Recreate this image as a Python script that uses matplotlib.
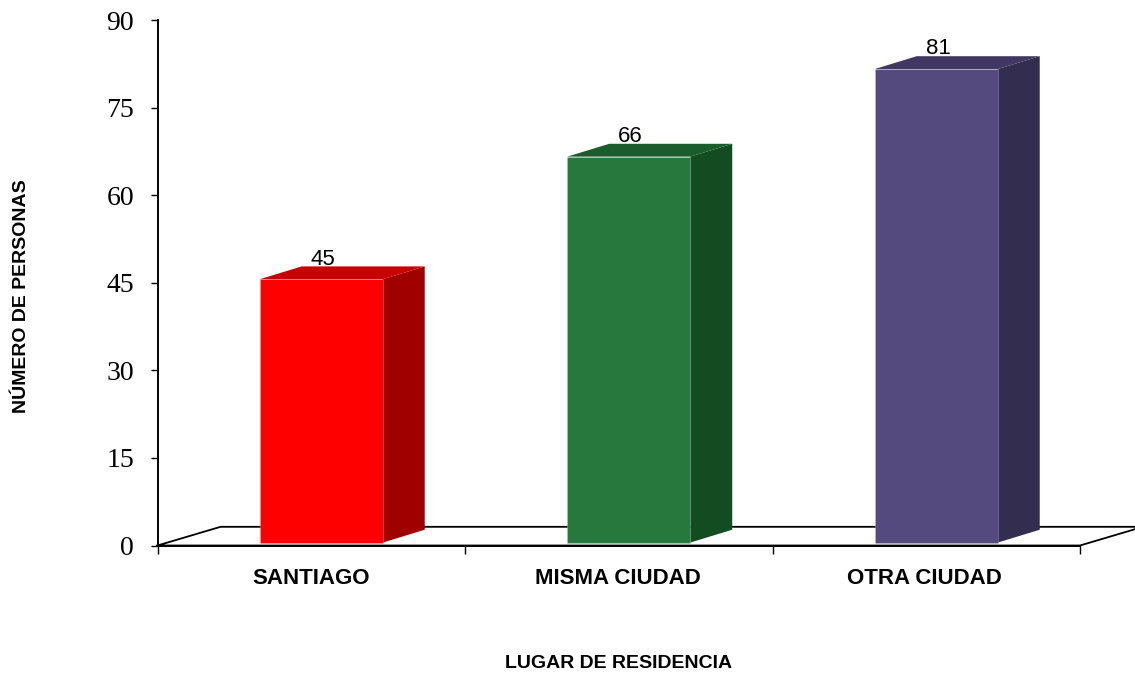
import matplotlib
matplotlib.use('Agg')
import matplotlib.pyplot as plt
from matplotlib.patches import Polygon

# Data
categories = ['SANTIAGO', 'MISMA CIUDAD', 'OTRA CIUDAD']
values = [45, 66, 81]
yticks = [0, 15, 30, 45, 60, 75, 90]

front_colors = ['#fe0000', '#26783c', '#544a7e']
side_colors = ['#a00000', '#144c22', '#332d50']
top_colors = ['#c80000', '#1a5c2c', '#403862']

# 3d look, in data units
dx = 0.1365
dy = 2.2
bar_w = 0.4
shift = 0.0325
lift = 0.5

fig = plt.figure(figsize=(11.35, 6.77), dpi=100)
ax = fig.add_axes([157.5 / 1135, 1 - 545.5 / 677, (1080 - 157.5) / 1135, (545.5 - 20) / 677])
ax.set_xlim(0, 3)
ax.set_ylim(0, 90)
ax.patch.set_alpha(0)

for s in ['top', 'right']:
    ax.spines[s].set_visible(False)
for s in ['left', 'bottom']:
    ax.spines[s].set_color('black')
    ax.spines[s].set_linewidth(1.4)

# floor
floor_x = [0, 3, 3 + 0.205, 0.205, 0]
floor_y = [0, 0, 3.2, 3.2, 0]
ax.plot(floor_x, floor_y, color='black', lw=1.3, clip_on=False, zorder=1)

for i, (v, f, sd, t) in enumerate(zip(values, front_colors, side_colors, top_colors)):
    x0 = i + 0.5 - bar_w / 2 + shift
    x1 = x0 + bar_w
    base = lift
    top = v + lift + 0.1
    ax.add_patch(Polygon([(x1, base), (x1 + dx, base + dy), (x1 + dx, top + dy), (x1, top)],
                         facecolor=sd, edgecolor='none', zorder=3, clip_on=False))
    ax.add_patch(Polygon([(x0, top), (x0 + dx, top + dy), (x1 + dx, top + dy), (x1, top)],
                         facecolor=t, edgecolor='none', zorder=3, clip_on=False))
    ax.add_patch(Polygon([(x0, base), (x1, base), (x1, top), (x0, top)],
                         facecolor=f, edgecolor=(0.85, 0.85, 0.9, 0.3), linewidth=0.6,
                         zorder=4, clip_on=False))
    ax.text(i + 0.5 + shift + 0.006, top + dy + 0.3, str(v), ha='center', va='baseline',
            fontsize=16, family='Liberation Sans', zorder=5)

ax.set_yticks(yticks)
ax.set_yticklabels([str(y) for y in yticks], family='Liberation Serif', fontsize=20)
ax.set_xticks([0, 1, 2, 3])
ax.set_xticklabels([])
ax.tick_params(axis='y', length=5, width=1, direction='out', pad=12)
ax.tick_params(axis='x', length=5.5, width=1, direction='out')

cat_x = [311, 618, 924.5]
for x, c in zip(cat_x, categories):
    fig.text(x / 1135, 1 - 579 / 677, c, ha='center', va='center',
             fontsize=16, fontweight='bold', family='Liberation Sans')

fig.text(619 / 1135, 1 - 664 / 677, 'LUGAR DE RESIDENCIA', ha='center', va='center',
         fontsize=14, fontweight='bold', family='Liberation Sans')
fig.text(22 / 1135, 1 - 296.5 / 677, 'NÚMERO DE PERSONAS', ha='center', va='center',
         rotation=90, fontsize=14, fontweight='bold', family='Liberation Sans')

fig.savefig('out.png', dpi=100)
